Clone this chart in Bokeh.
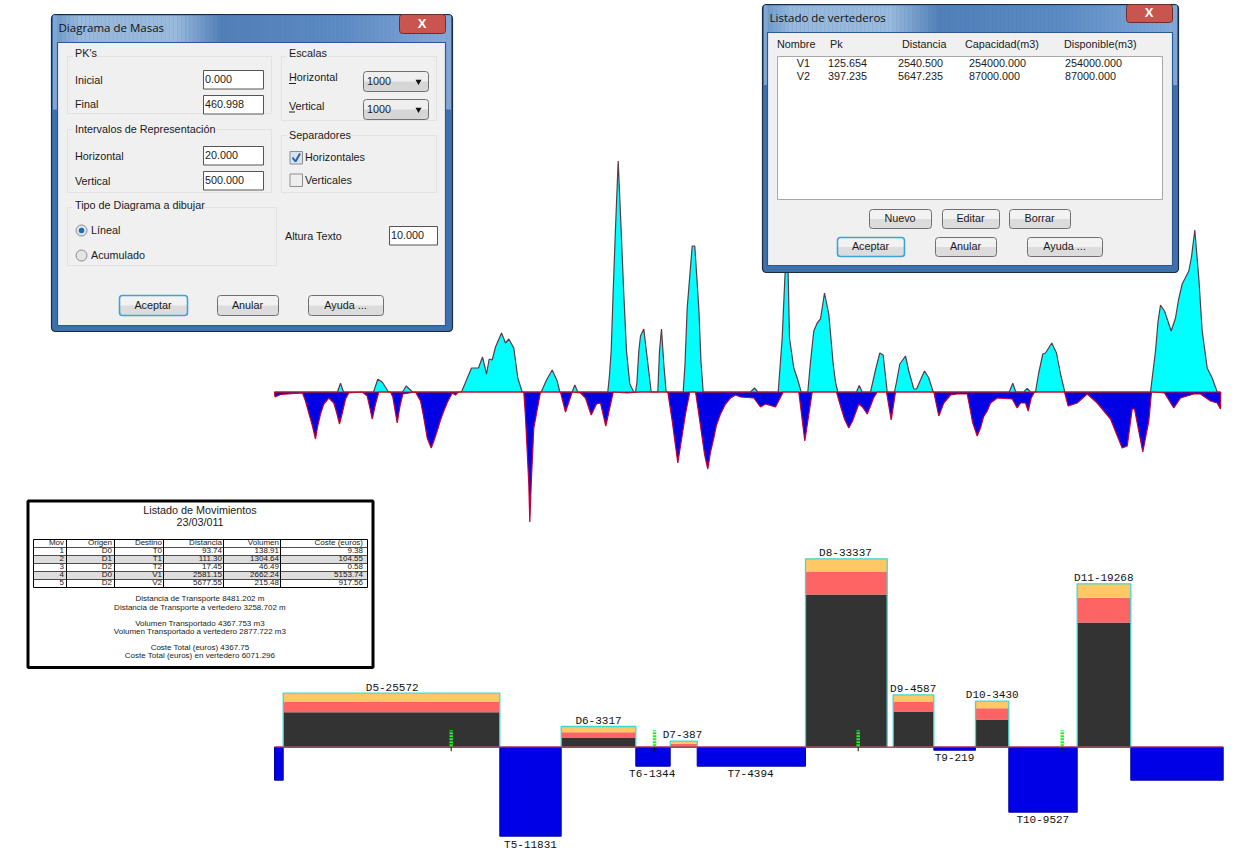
from bokeh.plotting import figure
from bokeh.models import Range1d
from bokeh.core.properties import value
from bokeh.embed import file_html
from bokeh.resources import INLINE

# ---------- terrain profile: station (as read), cut / fill ordinates ----------
fill_x = [274,337,340,343,373,377.3,381.7,388,402,405.7,412,461,471,478,482,486,488.7,491.7,495,501,505,508.3,513.3,517.3,521.7,
          540.7,546,551.7,556.7,559.3,571.7,574.3,577.3,607.3,609,610.7,612.7,615,617.7,620.7,623.3,626,629.3,633.3,
          635,636.5,638.3,640,643.3,646.7,650.7,657.3,659,661,663.3,665.7,682.7,684.5,686.7,691.7,694.3,698.3,700.5,702.7,
          750,754,757.3,777.7,781.7,783.3,786,787,789,793.3,796.7,800.7,807.3,810,813.3,816.7,820,824,828.3,832.7,835,837.3,
          856,858.7,861.7,870,875,879.3,882.7,886.7,894,896,899.3,905,908.3,913.3,916,924,928.3,932.7,
          1008.7,1012.3,1015.3,1023.3,1026.7,1030,1035,1038,1042.3,1045,1051.3,1056,1060,1064.3,
          1150,1155,1157.5,1160,1164,1170.7,1175,1178,1181.7,1188.3,1191,1194.3,1198.3,1201.7,1206.7,1211.7,1216.7,1220]
fill_h = [0,0,8.7,0,0,12.7,10,0,0,6,0,0,24,24,35,18,33,32,45,59,49,53,44,14,0,
          0,12,22,11,0,0,7,0,0,17,41,101,164,231,161,98,41,8,0,
          0,10,41,56,63,34,0,0,41,63,28,0,0,28,84,146,146,84,30,0,
          0,4,0,0,54,90,150,150,54,24,14,0,0,30,61,69,73,99,78,28,10,0,
          0,6.5,0,0,22,39,37,0,0,10,28,36,21,3,3,21,14,0,
          0,8.7,0,0,3.7,0,0,18,38,39,49,39,18,0,
          0,41,70,87,81,61,74,92,108,121,135,162,114,61,24,14,0,0]
cut_x = [274,274.5,280,302,305,308,311.7,315,317,320,323.3,328.3,333.3,336,339,342,345,348.3,361.7,366.7,369,371.7,375,378.3,390,392.3,394.5,396.7,399.5,402.3,
         415,420,423,426.7,430.7,433,436.7,440,443.3,447,451.7,
         455,458,523.3,525,528.3,529.3,530.7,533.3,540,560,565,571.7,580,585,590.7,596,600,605.3,612.7,
         626.7,640,667.3,671.7,677.3,685,689.3,695,698,701.7,704,707.3,710,713.3,716,720,725,730,735,740,753.3,760,765,775,782.7,
         798.3,804.3,811.7,836,840,844,848.3,852,858.3,862,866.7,870,873,876.7,886,890.7,895,
         933.3,938.3,943.3,950,956.7,966.7,970,972,976.7,980,983,986.7,990,996.7,
         1011.7,1016.7,1020,1025,1027.7,1030.7,1034,1064,1067.7,1076.7,1086.7,1096.7,1110,1121.7,1126.7,1131.7,1134,1142.3,1148.3,1151,
         1164,1173.3,1180,1193.3,1200,1210,1216.7,1220,1220.2]
cut_h = [0,-5,-2.5,-1,-9,-20,-33,-47,-35,-22,-12,-6,-11,-20,-32,-20,-7,-1,0,-4,-14,-27,-12,0,0,-5,-18,-31,-14,-2,
         0,-9,-24,-46,-56,-50,-39,-28,-19,-10,-1,
         -3,0,0,-25,-92,-130,-92,-36,0,0,-20,0,-1,-6,-23,-12,-11,-34,0,
         -1,0,0,-29,-71,-22,0,0,-20,-46,-62,-77,-60,-46,-33,-22,-12,-6,-3,-5,-6,-15,-12,-15,0,
         0,-49,0,0,-14,-27,-36,-29,-12,-15,-22,-14,-6,0,0,-28,0,
         0,-24,-11,-3,-2,-2,-19,-30,-44,-36,-25,-19,-11,-6,
         -7,-16,-11,-11,-19,-6,0,0,-14,-11,-2,-11,-27,-56,-54,-17,-17,-60,-29,0,
         -1,-16,-6,-2,-2,-9,-11,-17,0]

# ---------- mass diagram bars ----------
dig_x0 = [282.7,560.7,669.7,805,892.7,975,1076.7]
dig_x1 = [499.3,635.3,696.7,886.7,933.3,1008.3,1130.3]
dig_dark = [35,9.7,0,152.7,35.7,27.7,124.7]
dig_red = [10.7,5.3,3.4,23,10,11.3,24.7]
dig_yellow = [8.3,5.7,2.6,12.7,6.7,7,14]
dig_labels = ["D5-25572","D6-3317","D7-387","D8-33337","D9-4587","D10-3430","D11-19268"]
dig_label_x = [391.7,598,682,845,912.7,991.7,1103.3]
dig_label_gap = [5.5,5.5,6.5,5.5,5.5,6.5,5.5]

tip_x0 = [274,499.3,635.3,696.7,933.3,1008.3,1130.3]
tip_x1 = [282.7,560.7,669.7,805,975,1076.7,1222.7]
tip_depth = [33,89,19,19,3,65,33]
tip_labels = ["T5-11831","T6-1344","T7-4394","T9-219","T10-9527"]
tip_label_x = [530,651.7,750,954,1042.3]
tip_label_y = [-97.3,-26.3,-26.3,-10.3,-72.3]
tick_x = [450.7,654,857.7,1061.7]

# ---------- movements table ----------
mov = ["1","2","3","4","5"]
origen = ["D0","D1","D2","D0","D2"]
destino = ["T0","T1","T2","V1","V2"]
distancia = ["93.74","111.30","17.45","2581.15","5677.55"]
volumen = ["138.91","1304.64","46.49","2662.24","215.48"]
coste = ["9.38","104.55","0.58","5153.74","917.56"]
head = ["Mov","Origen","Destino","Distancia","Volumen","Coste (euros)"]
summary = ["Distancia de Transporte 8481.202 m","Distancia de Transporte a vertedero 3258.702 m",
           "Volumen Transportado 4367.753 m3","Volumen Transportado a vertedero 2877.722 m3",
           "Coste Total (euros) 4367.75","Coste Total (euros) en vertedero 6071.296"]

p = figure(width=1259, height=851, output_backend="svg", toolbar_location=None,
           x_range=Range1d(0,1259), y_range=Range1d(851,0), min_border=0,
           outline_line_color=None, background_fill_color="white", border_fill_color="white")
p.axis.visible = False
p.grid.visible = False
p.extra_y_ranges = {"prof": Range1d(391.5-851, 391.5), "vol": Range1d(746.7-851, 746.7)}

UI = "Liberation Sans"
UIS = 10.8
def T(x, y, s, size=UIS, font=UI, align="left", color="#1a1a1a", style="normal", yr="default"):
    if isinstance(s, str):
        x, y, s = [x], [y], [s]
    if yr == "default":
        y = [v-0.8 for v in y]
        x = [v-0.5 for v in x]
    p.text(x=x, y=y, text=s, text_font=value(font), text_font_size=value(f"{size}px"),
           text_align=align, text_baseline="middle", text_color=color, text_font_style=style,
           y_range_name=yr)

# profile
p.varea(x=fill_x, y1=0, y2=fill_h, fill_color="#00FFFF", y_range_name="prof")
p.varea(x=cut_x, y1=0, y2=cut_h, fill_color="#0000E6", y_range_name="prof")
p.line(fill_x, fill_h, line_color="#5A3A48", line_width=1.2, y_range_name="prof")
p.line(cut_x, cut_h, line_color="#C00038", line_width=1.2, y_range_name="prof")
p.segment(x0=[274], y0=[0], x1=[1220], y1=[0], line_color="#D01020", line_width=1.2, y_range_name="prof")

# mass diagram
p.quad(left=tip_x0, right=tip_x1, top=0, bottom=[-d for d in tip_depth], fill_color="#0000E6",
       line_color="#0000A0", line_width=1, y_range_name="vol")
dk = dig_dark
rd = [a+b for a,b in zip(dk, dig_red)]
yl = [a+b for a,b in zip(rd, dig_yellow)]
p.quad(left=dig_x0, right=dig_x1, top=dk, bottom=0, fill_color="#333333", line_color=None, y_range_name="vol")
p.quad(left=dig_x0, right=dig_x1, top=rd, bottom=dk, fill_color="#FF6464", line_color=None, y_range_name="vol")
p.quad(left=dig_x0, right=dig_x1, top=yl, bottom=rd, fill_color="#FFC864", line_color=None, y_range_name="vol")
p.quad(left=dig_x0, right=dig_x1, top=yl, bottom=0, fill_color=None, line_color="#40D8D0", line_width=1.3, y_range_name="vol")
p.segment(x0=[274], y0=[0], x1=[1222.7], y1=[0], line_color="#C81030", line_width=1.2, y_range_name="vol")
p.segment(x0=tick_x, y0=[0]*4, x1=tick_x, y1=[-4]*4, line_color="#111111", line_width=1, y_range_name="vol")
p.segment(x0=tick_x, y0=[1]*4, x1=tick_x, y1=[17]*4, line_color="#20F030", line_width=3.5, line_dash="2 1", y_range_name="vol")
MONO = "Liberation Mono"
T(dig_label_x, [t+g for t,g in zip(yl, dig_label_gap)], dig_labels, 11, MONO, "center", "#111111", yr="vol")
T(tip_label_x, tip_label_y, tip_labels, 11, MONO, "center", "#111111", yr="vol")

# ---------- movements box ----------
p.quad(left=[27.5], right=[372.5], top=[500.5], bottom=[667], fill_color="white", line_color="black", line_width=3)
T(200, 510, "Listado de Movimientos", 10.8, UI, "center")
T(200, 522, "23/03/011", 10.8, UI, "center")
p.quad(left=[33,33], right=[367,367], top=[555,571], bottom=[563,579], fill_color="#DDDDDD", line_color=None)
p.quad(left=[33], right=[367], top=[539], bottom=[587], fill_color=None, line_color="black", line_width=1)
col_lines = [66,114,163,223,280]
p.segment(x0=col_lines, y0=[539]*5, x1=col_lines, y1=[587]*5, line_color="black", line_width=1)
row_lines = [547,555,563,571,579]
p.segment(x0=[33]*5, y0=row_lines, x1=[367]*5, y1=row_lines, line_color="#222222", line_width=0.8)
col_right = [64,112,162,222,279,363]
rows_y = [551,559,567,575,583]
for xr, h, col in zip(col_right, head, [mov,origen,destino,distancia,volumen,coste]):
    T(xr, 543, h, 8, UI, "right")
    T([xr]*5, rows_y, col, 8, UI, "right")
T([200]*6, [599,608,624,632,648,656], summary, 8, UI, "center")

# ---------- window helpers ----------
def mix(a, b, t):
    ca=[int(a[i:i+2],16) for i in (1,3,5)]; cb=[int(b[i:i+2],16) for i in (1,3,5)]
    return "#%02X%02X%02X" % tuple(round(u+(v-u)*t) for u,v in zip(ca,cb))
STOPS=[(0,"#6E9AC8"),(0.06,"#98B8DC"),(0.3,"#9ABADC"),(0.42,"#527FB8"),(0.72,"#5C8AC2"),(1,"#86ABDC")]
def grad(t):
    for (a,ca),(b,cb) in zip(STOPS,STOPS[1:]):
        if t<=b: return mix(ca,cb,(t-a)/(b-a))
    return STOPS[-1][1]
def window(x0,x1,y0,y1,cx0,cx1,cy0,cy1,title,bx0,bx1,by1):
    p.quad(left=[x0],right=[x1],top=[y0],bottom=[y1],fill_color="#3E70AE",line_color="#1A2A40",line_width=1.2,border_radius=4)
    n=int((x1-x0-4)/4)
    ls=[x0+2+i*4 for i in range(n)]
    p.quad(left=ls,right=[l+4.3 for l in ls],top=[y0+1]*n,bottom=[cy0]*n,
           fill_color=[grad(i/n) for i in range(n)],line_color=None)
    p.quad(left=[x0+1.5,cx1],right=[cx0,x1-1.5],top=[y0+1]*2,bottom=[y0+(y1-y0)*0.3]*2,fill_color="#7FA6D4",line_color=None)
    p.quad(left=[cx0],right=[cx1],top=[cy0],bottom=[cy1],fill_color="#F0F0F0",line_color="#2A5A96",line_width=1.2)
    T(x0+7.5,(y0+cy0)/2,title,11.5,"Open Sans",color="#111111")
    p.quad(left=[bx0],right=[bx1],top=[y0],bottom=[by1],fill_color="#C8564E",line_color="#6E2E30",line_width=1,border_radius=3)
    T((bx0+bx1)/2,(y0+by1)/2,"X",13,UI,"center","white","bold")
def button(x0,x1,y0,y1,label,default=False):
    mid=(y0+y1)/2
    p.quad(left=[x0],right=[x1],top=[y0],bottom=[mid],fill_color="#F2F2F2",line_color=None)
    p.quad(left=[x0],right=[x1],top=[mid],bottom=[y1],fill_color="#DCDCDC",line_color=None)
    p.quad(left=[x0],right=[x1],top=[y0],bottom=[y1],fill_color=None,
           line_color="#3DA6D0" if default else "#707070",line_width=1.6 if default else 1,border_radius=3)
    T((x0+x1)/2,mid,label,UIS,UI,"center")
def entry(x0,x1,y0,y1,s):
    p.quad(left=[x0],right=[x1],top=[y0],bottom=[y1],fill_color="white",line_color="#555555",line_width=1)
    T(x0+2,(y0+y1)/2,s)
def combo(x0,x1,y0,y1,s):
    mid=(y0+y1)/2
    p.quad(left=[x0],right=[x1],top=[y0],bottom=[mid],fill_color="#EFEFEF",line_color=None)
    p.quad(left=[x0],right=[x1],top=[mid],bottom=[y1],fill_color="#D6D6D6",line_color=None)
    p.quad(left=[x0],right=[x1],top=[y0],bottom=[y1],fill_color=None,line_color="#707070",line_width=1,border_radius=3)
    T(x0+4,mid,s)
    p.scatter([x1-10],[mid],marker="inverted_triangle",size=6,fill_color="#111111",line_color=None)
def group(x0,x1,y0,y1):
    p.quad(left=[x0],right=[x1],top=[y0],bottom=[y1],fill_color=None,line_color="#E2E2E2",line_width=1)

# ---------- Diagrama de Masas ----------
window(51,452,14,331,57,445,42,325,"Diagrama de Masas",399,445,33)
group(67,271,56,113); group(67,271,129,192); group(67,276,207,265); group(281,436,56,120); group(281,436,135,192)
ly=[53,80,104.6,129,156,181,205,230,255,53,77,106,135,157,180,236]
lx=[75,75,75,75,75,75,75,91,91,289,289,289,289,305,305,285]
lt=["PK's","Inicial","Final","Intervalos de Representación","Horizontal","Vertical","Tipo de Diagrama a dibujar",
    "Líneal","Acumulado","Escalas","Horizontal","Vertical","Separadores","Horizontales","Verticales","Altura Texto"]
# labels sit on top of their group boxes: mask the frame first
p.quad(left=[72,72,72,286,286],right=[95,216,204,327,345],top=[50,124,200,50,130],bottom=[60,134,210,60,140],fill_color="#F0F0F0",line_color=None)
T(lx,ly,lt)
p.segment(x0=[288.5,288.5],y0=[83,111.5],x1=[295.5,294.5],y1=[83,111.5],line_color="#222222",line_width=1)
entry(203,263,70,88.5,"0.000"); entry(203,263,95,113.5,"460.998"); entry(203,263,146,164.5,"20.000")
entry(203,263,171,189.5,"500.000"); entry(389,437,226,244.5,"10.000")
combo(363,428,71,91,"1000"); combo(363,428,99,119,"1000")
p.quad(left=[289.5,289.5],right=[302,302],top=[151,173.5],bottom=[163.5,186],fill_color=["#D4E4F4","#EEEEEE"],line_color="#8E8F8F",line_width=1)
p.line([292,295,299.5],[157,161,153],line_color="#3B5E9A",line_width=2)
p.scatter([81,81],[230,255],size=11,fill_color=["#D8E6F2","#E4E4E4"],line_color="#8A8A8A",line_width=1)
p.scatter([81],[230],size=5.5,fill_color="#1F6DB0",line_color=None)
button(119,187,295,315,"Aceptar",True); button(217,278,295,315,"Anular"); button(308,383,295,315,"Ayuda ...")

# ---------- Listado de vertederos ----------
window(762,1178,4,272,767,1172,32,265,"Listado de vertederos",1126,1172,22)
T([777,830,902,965,1064],[44]*5,["Nombre","Pk","Distancia","Capacidad(m3)","Disponible(m3)"])
p.quad(left=[777],right=[1162],top=[56],bottom=[199],fill_color="white",line_color="#A8A8A8",line_width=1)
T([810,810],[63,76],["V1","V2"],align="right")
T([828,828],[63,76],["125.654","397.235"])
T([898,898],[63,76],["2540.500","5647.235"])
T([969,969],[63,76],["254000.000","87000.000"])
T([1065,1065],[63,76],["254000.000","87000.000"])
button(869,931,209,228,"Nuevo"); button(942,999,209,228,"Editar"); button(1009,1070,209,228,"Borrar")
button(837,904,237,256,"Aceptar",True); button(935,996,237,256,"Anular"); button(1027,1102,237,256,"Ayuda ...")

open("out.html","w").write(file_html(p, INLINE))
